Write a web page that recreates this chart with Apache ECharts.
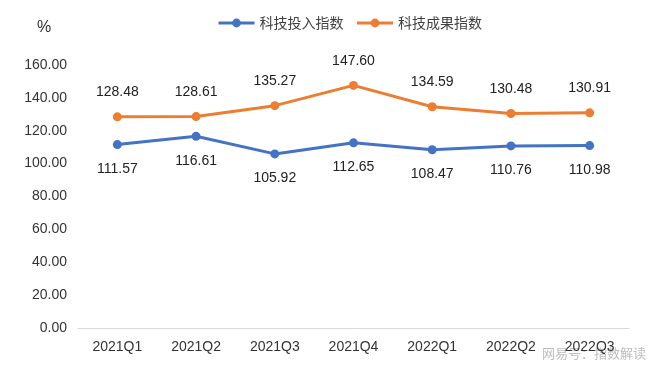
<!DOCTYPE html>
<html><head><meta charset="utf-8">
<script src="https://cdn.jsdelivr.net/npm/echarts@6/dist/echarts.min.js"></script>
<style>html,body{margin:0;padding:0;background:#fff}#c{width:660px;height:373px}</style>
</head><body><div id="c"></div>
<script>
const categories = ['2021Q1','2021Q2','2021Q3','2021Q4','2022Q1','2022Q2','2022Q3'];
const inputName = '科技投入指数';
const outputName = '科技成果指数';
const inputValues = [111.57, 116.61, 105.92, 112.65, 108.47, 110.76, 110.98];
const outputValues = [128.48, 128.61, 135.27, 147.60, 134.59, 130.48, 130.91];
const yTicks = [0, 20, 40, 60, 80, 100, 120, 140, 160];

const font = '"Liberation Sans", Arial, "Noto Sans CJK SC", sans-serif';
const chart = echarts.init(document.getElementById('c'));
chart.setOption({
  animation: false,
  textStyle: { fontFamily: font },
  legend: {
    top: 11, left: 212, itemGap: 12, itemWidth: 36, itemHeight: 11,
    lineStyle: { width: 3 },
    textStyle: { fontSize: 14, color: '#404040', fontFamily: '"Noto Sans CJK SC", sans-serif' },
    data: [inputName, outputName]
  },
  graphic: [
    { type: 'text', left: 37, top: 20, style: { text: '%', fontSize: 16, fill: '#333', fontFamily: font } },
    { type: 'text', right: 14, top: 347, style: { text: '网易号：指数解读', fontSize: 13, fill: 'rgba(160,160,160,0.7)', fontFamily: '"Noto Sans CJK SC", sans-serif' } }
  ],
  grid: { left: 78, right: 31, top: 65, bottom: 45 },
  xAxis: {
    type: 'category', data: categories, boundaryGap: true,
    axisLine: { lineStyle: { color: '#d9d9d9', width: 1 } },
    axisTick: { show: false },
    axisLabel: { fontSize: 14, color: '#333', margin: 12, fontFamily: font }
  },
  yAxis: {
    type: 'value', min: yTicks[0], max: yTicks[yTicks.length-1], interval: 20,
    axisLine: { show: false }, axisTick: { show: false }, splitLine: { show: false },
    axisLabel: { fontSize: 14, color: '#333', margin: 11, fontFamily: font, formatter: v => v.toFixed(2) }
  },
  series: [
    {
      name: inputName, type: 'line', data: inputValues,
      symbol: 'circle', symbolSize: 9,
      lineStyle: { color: '#4472C4', width: 3 },
      itemStyle: { color: '#4472C4' },
      label: { show: true, position: 'bottom', distance: 13, fontSize: 14, color: '#222', fontFamily: font, formatter: p => p.value.toFixed(2) }
    },
    {
      name: outputName, type: 'line', data: outputValues,
      symbol: 'circle', symbolSize: 9,
      lineStyle: { color: '#ED7D31', width: 3 },
      itemStyle: { color: '#ED7D31' },
      label: { show: true, position: 'top', distance: 13, fontSize: 14, color: '#222', fontFamily: font, formatter: p => p.value.toFixed(2) }
    }
  ]
});
</script></body></html>
